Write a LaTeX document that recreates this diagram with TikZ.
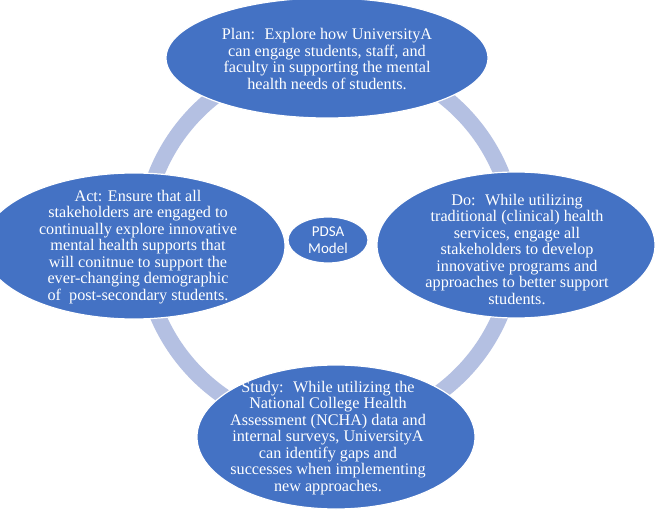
\documentclass[tikz,border=0pt]{standalone}
\usepackage{fontspec}
\setmainfont{Liberation Serif}
\newfontfamily\calib{Carlito}
\usetikzlibrary{shapes.geometric}
\definecolor{nodeblue}{RGB}{68,114,196}
\definecolor{ringblue}{RGB}{180,192,226}
\tikzset{
  blob/.style={ellipse, fill=nodeblue, draw=white, line width=1.2pt, inner sep=0pt},
  txt/.style={text=white, align=center, font=\fontsize{16.2}{16.5}\selectfont, inner sep=0pt},
  ctxt/.style={text=white, align=center, font=\calib\fontsize{15}{16.5}\selectfont, inner sep=0pt}
}
\begin{document}
\begin{tikzpicture}[x=1pt,y=-1pt]
\useasboundingbox (0,0) rectangle (657,511);
\clip (0,0) rectangle (657,511);
\fill[white] (0,0) rectangle (657,511);
\coordinate (c) at (329,243);
\draw[ringblue, line width=16pt] (c) circle[radius=186];
\node[blob, minimum width=322pt, minimum height=120pt] (plan) at (327,58) {};
\node[blob, minimum width=278pt, minimum height=146pt] (do) at (516,245) {};
\node[blob, minimum width=278pt, minimum height=144pt] (study) at (336,437) {};
\node[blob, minimum width=302pt, minimum height=146pt] (act) at (134,246) {};
\node[blob, minimum width=80pt, minimum height=46pt] (pdsa) at (328,240) {};
\node[txt] at ([yshift=-1pt]plan.center) {Plan:~ Explore how UniversityA\\can engage students, staff, and\\faculty in supporting the mental\\health needs of students.};
\node[txt] at ([xshift=1pt,yshift=-4pt]do.center) {Do:~ While utilizing\\traditional (clinical) health\\services, engage all\\stakeholders to develop\\innovative programs and\\approaches to better support\\students.};
\node[txt] at ([xshift=-8pt,yshift=-1pt]study.center) {Study:~ While utilizing the\\National College Health\\Assessment (NCHA) data and\\internal surveys, UniversityA\\can identify gaps and\\successes when implementing\\new approaches.};
\node[txt] at ([xshift=4pt,yshift=-1pt]act.center) {Act: Ensure that all\\stakeholders are engaged to\\continually explore innovative\\mental health supports that\\will conitnue to support the\\ever-changing demographic\\of~ post-secondary students.};
\node[ctxt] at (pdsa.center) {PDSA\\Model};
\end{tikzpicture}
\end{document}
